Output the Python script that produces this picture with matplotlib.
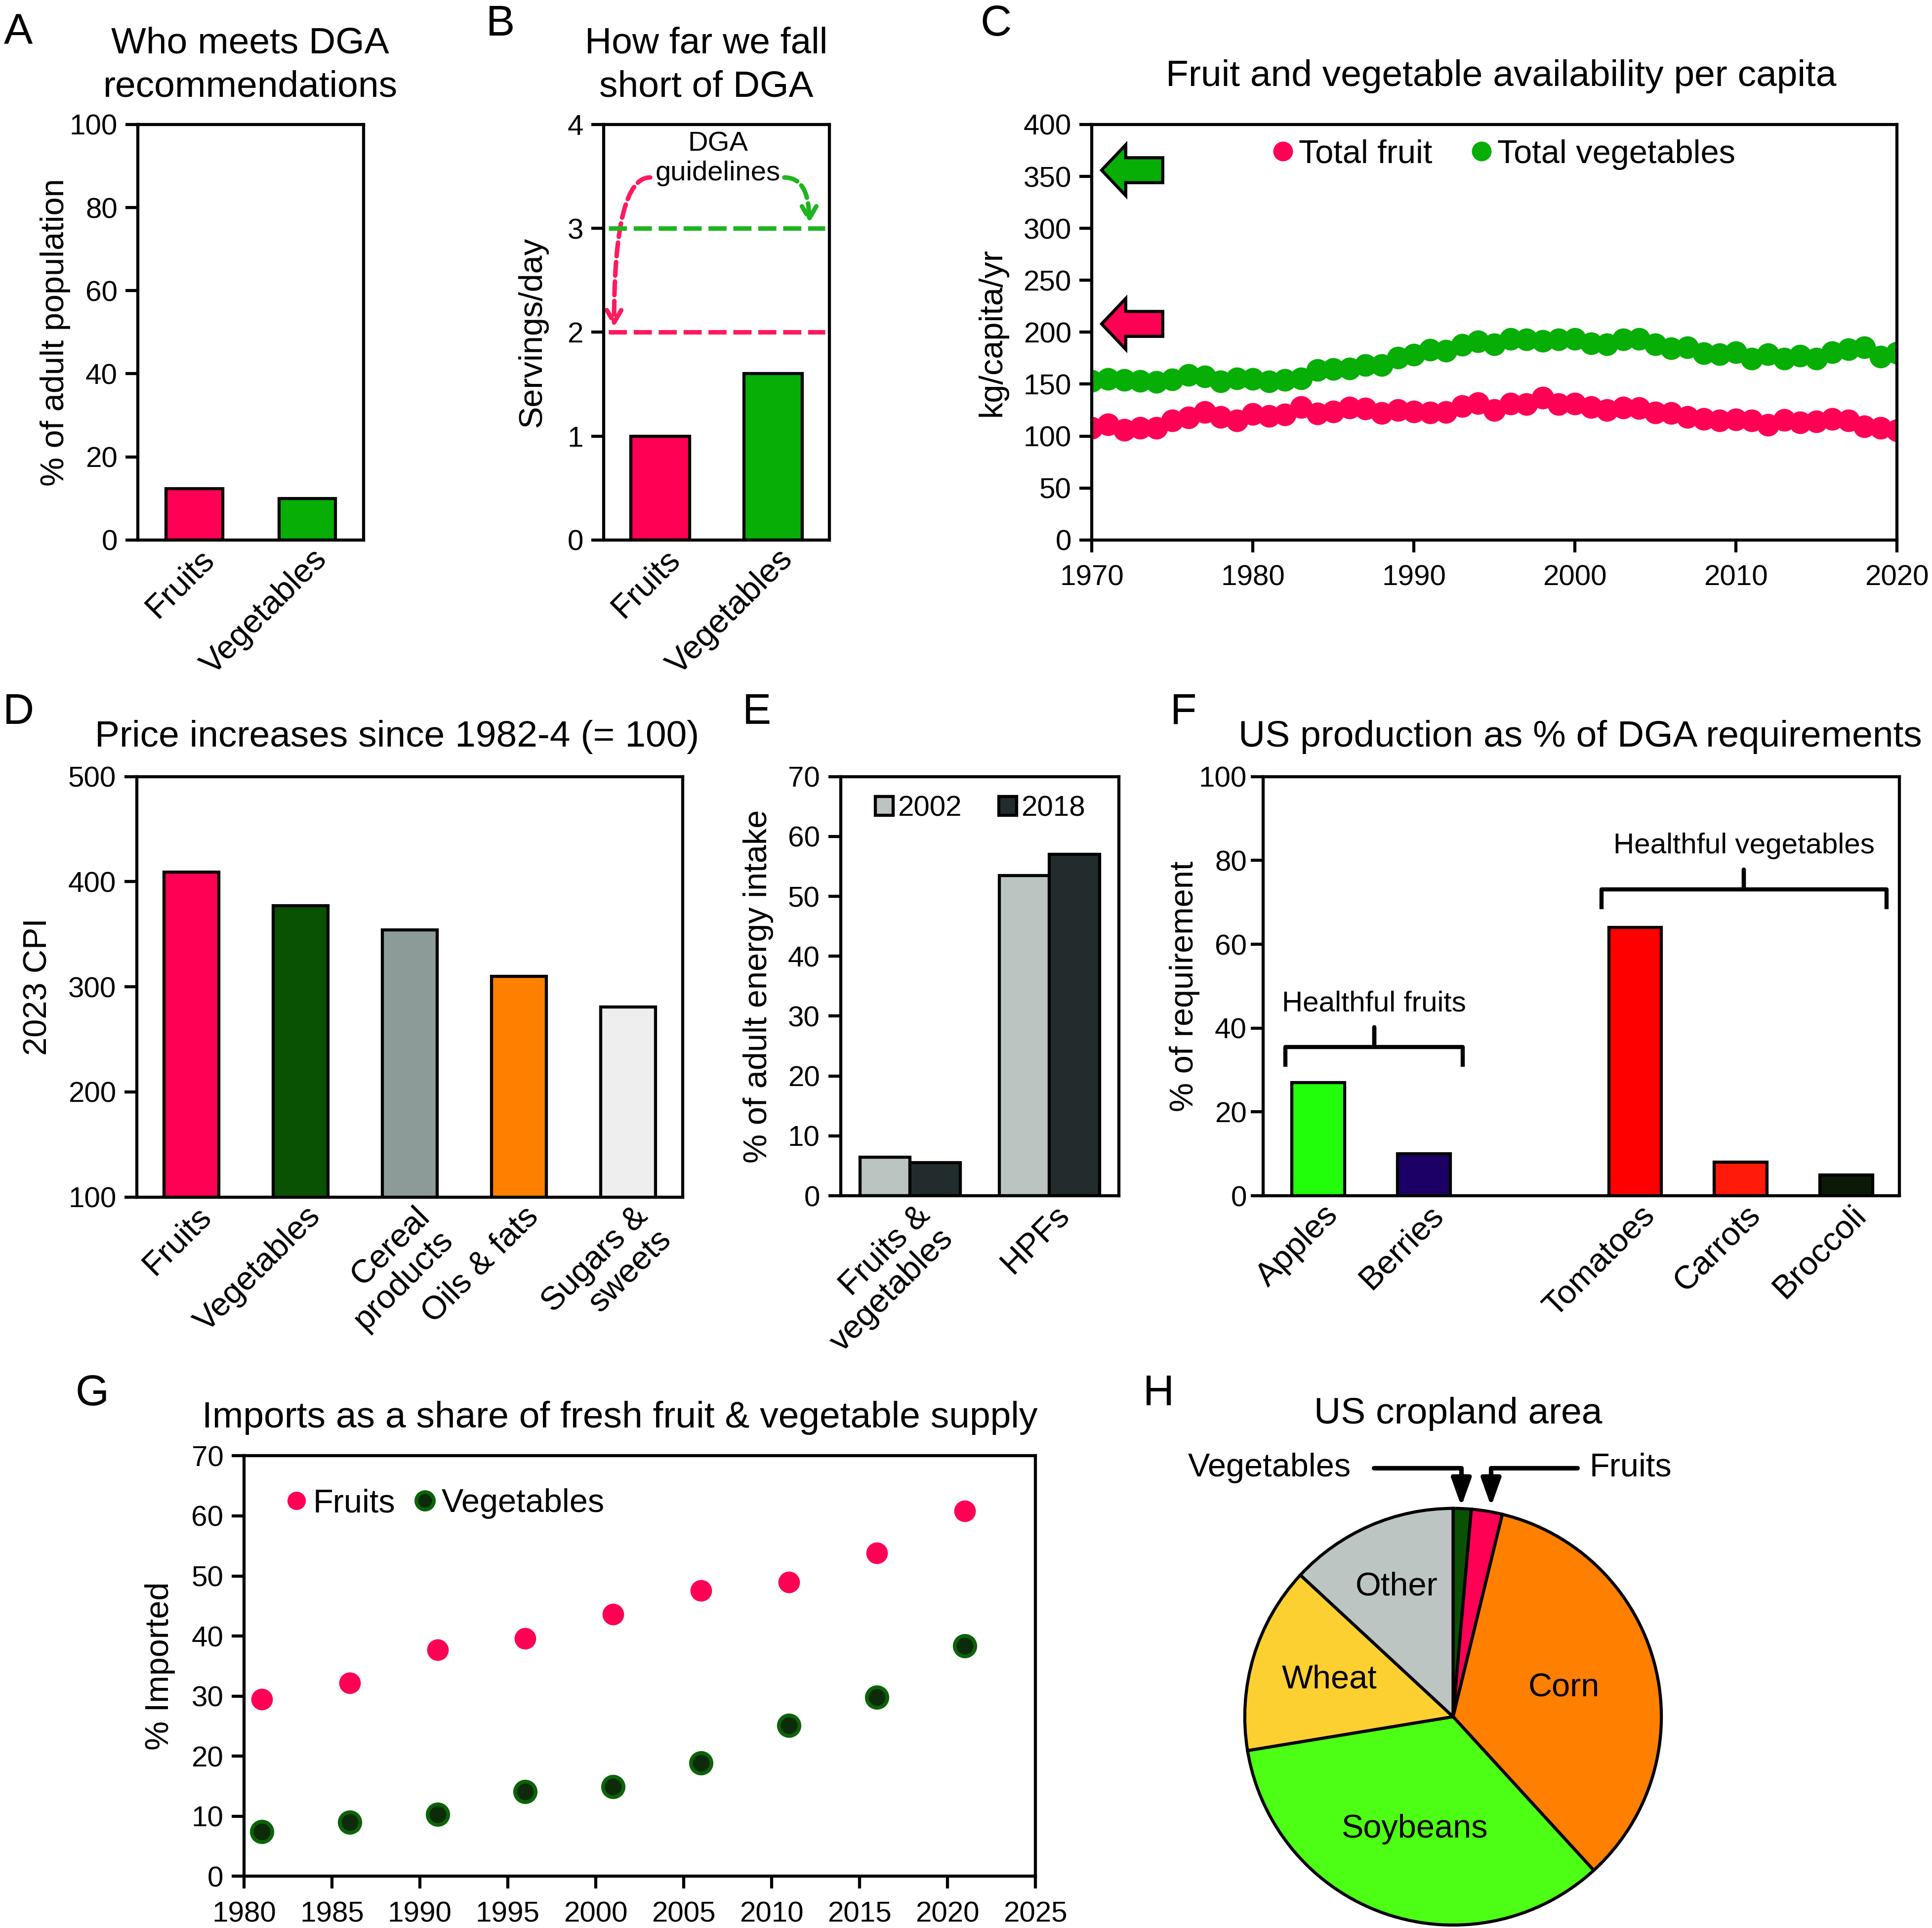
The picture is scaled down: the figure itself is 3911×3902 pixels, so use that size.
import matplotlib
matplotlib.use("Agg")
import matplotlib.pyplot as plt
import matplotlib.transforms as mtransforms
from matplotlib.patches import FancyArrowPatch, FancyArrow
import numpy as np

plt.rcParams['font.family'] = ['Liberation Sans', 'DejaVu Sans']

# ---------------- data ----------------
# A: who meets DGA recommendations
a_cats = ["Fruits", "Vegetables"]
a_vals = [12.3, 10.0]

# B: servings/day vs DGA
b_cats = ["Fruits", "Vegetables"]
b_vals = [1.0, 1.6]
b_dga_fruit = 2
b_dga_veg = 3

# C: availability per capita (kg/capita/yr)
c_years = list(range(1970, 2021))
c_fruit = [108, 111, 106, 108, 108, 115, 118, 123, 118.5, 115,
           121, 119.5, 120.5, 128, 121.5, 123.5, 127.5, 126.5, 122, 125,
           123.5, 122.5, 123, 129, 131.5, 125, 131, 130.5, 137, 130.5,
           131, 128, 125, 127.5, 127, 122.5, 122, 118.5, 116.5, 115,
           116, 115, 110.5, 115.5, 113, 114, 116.5, 115, 109.5, 108,
           105.5]
c_veg = [153, 155, 154, 153, 152, 154.5, 159, 157.5, 152.5, 155.5,
         155, 152.5, 154, 155.5, 163.5, 164.5, 165, 168.5, 168.5, 175.5,
         178.5, 183, 182, 188, 191, 188.5, 193.5, 193, 191.5, 193,
         193.5, 189, 188.5, 193, 193.5, 188.5, 184.5, 185.5, 179.5, 179,
         180.5, 174.5, 179, 174.5, 177.5, 174.5, 180.5, 183.5, 185.5, 176.5,
         180]
c_target_veg = 356
c_target_fruit = 208

# D: CPI 2023
d_cats = ["Fruits", "Vegetables", "Cereal\nproducts", "Oils & fats", "Sugars &\nsweets"]
d_vals = [409, 377, 354, 310, 281]

# E: share of adult energy intake
e_cats = ["Fruits &\nvegetables", "HPFs"]
e_2002 = [6.4, 53.5]
e_2018 = [5.5, 57.0]

# F: US production as % of DGA requirement
f_cats = ["Apples", "Berries", "Tomatoes", "Carrots", "Broccoli"]
f_pos = [0, 1, 3, 4, 5]
f_vals = [27.0, 10.0, 64.0, 8.0, 5.0]

# G: imports share
g_years = [1981, 1986, 1991, 1996, 2001, 2006, 2011, 2016, 2021]
g_fruit = [29.5, 32.2, 37.7, 39.6, 43.6, 47.6, 49.0, 53.8, 60.8]
g_veg = [7.4, 9.0, 10.3, 14.1, 14.9, 18.9, 25.1, 29.8, 38.4]

# H: US cropland area (%)
h_cats = ["Vegetables", "Fruits", "Corn", "Soybeans", "Wheat", "Other"]
h_vals = [1.4, 2.4, 34.4, 34.2, 14.5, 13.1]

# ---------------- colours ----------------
PINK = '#FF0055'
GREEN = '#06AE06'
DKGREEN = '#0A5203'
d_colors = [PINK, DKGREEN, '#8C9B97', '#FF8000', '#EEEEEE']
e_colors = ['#BCC4C1', '#232C2C']
f_colors = ['#22FF0A', '#1C0066', '#FF0000', '#FF1A0A', '#0B1A06']
h_colors = [DKGREEN, PINK, '#FF8000', '#4CFF14', '#FDD032', '#BCC5C2']

W, H = 1568.0, 1564.0
fig = plt.figure(figsize=(3912 / 300, 3902 / 300), dpi=300)
LW = 1.5
TICK = 14
XLAB = 16
YLAB = 16
TITLE = 18


def add_ax(l, t, r, b):
    return fig.add_axes([l / W, 1 - b / H, (r - l) / W, (b - t) / H])


def style(ax, xticks_len=0):
    for s in ax.spines.values():
        s.set_linewidth(LW)
    ax.tick_params(axis='y', direction='out', length=6, width=LW, labelsize=TICK, pad=4)
    ax.tick_params(axis='x', direction='out', length=xticks_len, width=LW, labelsize=TICK)


def rot_labels(ax, labels, dx=2, dy=1.5, size=XLAB):
    ax.set_xticklabels(labels, rotation=45, ha='right', va='top',
                       rotation_mode='anchor', fontsize=size, linespacing=1.1)
    off = mtransforms.ScaledTranslation(dx / 72, dy / 72, fig.dpi_scale_trans)
    for lab in ax.get_xticklabels():
        lab.set_transform(lab.get_transform() + off)


def ylabel(ax, text, x, size=YLAB):
    ax.set_ylabel(text, fontsize=size, va='center')
    ax.yaxis.set_label_coords(x, 0.5)


def fig_text(x, y, s, size, **kw):
    fig.text(x / W, 1 - y / H, s, fontsize=size, ha=kw.pop('ha', 'center'),
             va=kw.pop('va', 'center'), **kw)


# panel letters
for letter, (x, y) in zip("ABCDEFGH", [(15, 27), (406, 20), (808, 20), (15, 578),
                                       (614, 578), (960, 578), (75, 1131), (940, 1131)]):
    fig_text(x, y, letter, 21)

# ---------------- A ----------------
ax = add_ax(112, 101, 295, 438)
style(ax)
xa = np.arange(len(a_cats))
ax.bar(xa, a_vals, width=0.5, color=[PINK, GREEN], edgecolor='black', linewidth=LW)
ax.set_xlim(-0.5, 1.5)
ax.set_ylim(0, 100)
ax.set_yticks(range(0, 101, 20))
ax.set_xticks(xa)
rot_labels(ax, a_cats)
ylabel(ax, "% of adult population", -0.366)
fig_text(203, 53, "Who meets DGA\nrecommendations", TITLE, linespacing=1.35)

# ---------------- B ----------------
ax = add_ax(490, 101, 673, 438)
style(ax)
xb = np.arange(len(b_cats))
ax.bar(xb, b_vals, width=0.52, color=[PINK, GREEN], edgecolor='black', linewidth=LW)
ax.set_xlim(-0.5, 1.5)
ax.set_ylim(0, 4)
ax.set_yticks(range(0, 5))
ax.set_xticks(xb)
rot_labels(ax, b_cats)
ylabel(ax, "Servings/day", -0.317)
ax.axhline(b_dga_veg, xmin=0.02, xmax=0.98, color='#1DB51D', lw=2.2, ls=(0, (4, 1.5)))
ax.axhline(b_dga_fruit, xmin=0.02, xmax=0.98, color='#FF1A5E', lw=2.2, ls=(0, (4, 1.5)))
ax.text(0.51, 3.67, "DGA\nguidelines", ha='center', va='center', fontsize=13.5, linespacing=1.2)
ax.add_patch(FancyArrowPatch((-0.09, 3.49), (-0.41, b_dga_fruit + 0.05),
                             connectionstyle="angle3,angleA=0,angleB=90",
                             arrowstyle='->,head_length=6,head_width=3.5', color='#FF1A5E',
                             lw=2.2, ls=(0, (3, 1.3)), shrinkA=0, shrinkB=0))
ax.add_patch(FancyArrowPatch((1.10, 3.49), (1.32, b_dga_veg + 0.05),
                             connectionstyle="angle3,angleA=0,angleB=90",
                             arrowstyle='->,head_length=6,head_width=3.5', color='#1DB51D',
                             lw=2.2, ls=(0, (3, 1.3)), shrinkA=0, shrinkB=0))
fig_text(573, 53, "How far we fall\nshort of DGA", TITLE, linespacing=1.35)

# ---------------- C ----------------
ax = add_ax(886, 101, 1539, 438)
style(ax, xticks_len=6)
ax.plot(c_years, c_fruit, 'o', ms=11, color=PINK, mec='none', label='Total fruit')
ax.plot(c_years, c_veg, 'o', ms=11, color=GREEN, mec='none', label='Total vegetables')
ax.set_xlim(1970, 2020)
ax.set_ylim(0, 400)
ax.set_yticks(range(0, 401, 50))
ax.set_xticks(range(1970, 2021, 10))
ax.tick_params(axis='x', pad=6)
ylabel(ax, "kg/capita/yr", -0.124)
for val, col in [(c_target_veg, GREEN), (c_target_fruit, PINK)]:
    ax.add_patch(FancyArrow(1974.4, val, -3.8, 0, width=24, head_width=49, head_length=1.5,
                            length_includes_head=True, facecolor=col, edgecolor='black',
                            lw=1.5, clip_on=False))
ax.legend(loc='center left', bbox_to_anchor=(0.225, 0.928), ncol=2, frameon=False,
          fontsize=16, handlelength=0.6, handletextpad=0.18, columnspacing=1.19,
          borderpad=0, borderaxespad=0, markerscale=0.87)
fig_text(1218, 62, "Fruit and vegetable availability per capita", TITLE)

# ---------------- D ----------------
ax = add_ax(111, 630, 554, 971)
style(ax)
xd = np.arange(len(d_cats))
ax.bar(xd, d_vals, width=0.5, bottom=0, color=d_colors, edgecolor='black', linewidth=LW)
ax.set_xlim(-0.5, len(d_cats) - 0.5)
ax.set_ylim(100, 500)
ax.set_yticks(range(100, 501, 100))
ax.set_xticks(xd)
rot_labels(ax, d_cats)
ylabel(ax, "2023 CPI", -0.18)
fig_text(322, 598, "Price increases since 1982-4 (= 100)", TITLE)

# ---------------- E ----------------
ax = add_ax(682, 630, 908, 970)
style(ax)
xe = np.arange(len(e_cats))
bw = 0.36
ax.bar(xe - bw / 2, e_2002, width=bw, color=e_colors[0], edgecolor='black', linewidth=LW, label='2002')
ax.bar(xe + bw / 2, e_2018, width=bw, color=e_colors[1], edgecolor='black', linewidth=LW, label='2018')
ax.set_xlim(-0.5, 1.5)
ax.set_ylim(0, 70)
ax.set_yticks(range(0, 71, 10))
ax.set_xticks(xe)
rot_labels(ax, e_cats)
ylabel(ax, "% of adult energy intake", -0.296)
ax.legend(loc='center left', bbox_to_anchor=(0.125, 0.9235), ncol=2, frameon=False, fontsize=14,
          handlelength=0.62, handleheight=0.62, handletextpad=0.15, columnspacing=1.3,
          borderpad=0, borderaxespad=0)

# ---------------- F ----------------
ax = add_ax(1025, 630, 1541, 970)
style(ax)
ax.tick_params(axis='y', pad=2)
ax.bar(f_pos, f_vals, width=0.5, color=f_colors, edgecolor='black', linewidth=LW)
ax.set_xlim(-0.52, 5.5)
ax.set_ylim(0, 100)
ax.set_yticks(range(0, 101, 20))
ax.set_xticks(f_pos)
rot_labels(ax, f_cats)
ylabel(ax, "% of requirement", -0.124)


def brace(ax, x0, x1, y, h, label):
    xm = (x0 + x1) / 2
    ax.plot([x0, x0, xm, xm, xm, x1, x1], [y - h, y, y, y + h, y, y, y - h],
            color='black', lw=2, solid_joinstyle='round', solid_capstyle='butt')
    ax.text(xm, y + 2.2 * h, label, ha='center', va='center', fontsize=14)


brace(ax, f_pos[0] - 0.31, f_pos[1] + 0.37, 35.5, 4.7, "Healthful fruits")
brace(ax, f_pos[2] - 0.32, f_pos[4] + 0.38, 73.1, 4.7, "Healthful vegetables")
fig_text(1282, 598, "US production as % of DGA requirements", TITLE)

# ---------------- G ----------------
ax = add_ax(198, 1181, 840, 1522)
style(ax, xticks_len=6)
ax.plot(g_years, g_fruit, 'o', ms=10.5, color=PINK, mec='none', label='Fruits')
ax.plot(g_years, g_veg, 'o', ms=10, color='#0C2B08', mec='#0B6408', mew=1.8, label='Vegetables')
ax.set_xlim(1980, 2025)
ax.set_ylim(0, 70)
ax.set_yticks(range(0, 71, 10))
ax.set_xticks(range(1980, 2026, 5))
ax.tick_params(axis='x', pad=6)
ylabel(ax, "% Imported", -0.106)
ax.legend(loc='center left', bbox_to_anchor=(0.054, 0.886), ncol=2, frameon=False, fontsize=16,
          handlelength=0.6, handletextpad=0.2, columnspacing=0.6,
          borderpad=0, borderaxespad=0, markerscale=0.85)
fig_text(503, 1150, "Imports as a share of fresh fruit & vegetable supply", TITLE)

# ---------------- H ----------------
ax = add_ax(1010, 1223.6, 1348, 1561.6)
wedges, _ = ax.pie(h_vals, colors=h_colors, startangle=90, counterclock=False,
                   wedgeprops=dict(edgecolor='black', linewidth=LW))
ax.set_xlim(-1, 1)
ax.set_ylim(-1, 1)
ax.set_aspect('equal')
ax.axis('off')
cum = np.cumsum([0] + h_vals)
label_r = {"Corn": 0.55, "Soybeans": 0.57, "Wheat": 0.62, "Other": 0.68}
for i, name in enumerate(h_cats):
    if name in label_r:
        mid = np.deg2rad((cum[i] + cum[i + 1]) / 2 / 100 * 360)
        r = label_r[name]
        ax.text(r * np.sin(mid), r * np.cos(mid), name, ha='center', va='center', fontsize=16)
mid_veg = np.deg2rad((cum[0] + cum[1]) / 2 / 100 * 360)
mid_fr = np.deg2rad((cum[1] + cum[2]) / 2 / 100 * 360) + 0.02
ax.annotate("Vegetables", xy=(np.sin(mid_veg) * 0.9, 1.0), xytext=(-0.49, 1.195),
            ha='right', va='center', fontsize=16, annotation_clip=False,
            arrowprops=dict(arrowstyle='-|>,head_length=0.7,head_width=0.25', color='black', lw=2.2,
                            connectionstyle='angle,angleA=0,angleB=90,rad=0',
                            relpos=(1, 0.5), shrinkA=9, shrinkB=1))
ax.annotate("Fruits", xy=(np.sin(mid_fr), 1.0), xytext=(0.655, 1.195),
            ha='left', va='center', fontsize=16, annotation_clip=False,
            arrowprops=dict(arrowstyle='-|>,head_length=0.7,head_width=0.25', color='black', lw=2.2,
                            connectionstyle='angle,angleA=0,angleB=90,rad=0',
                            relpos=(0, 0.5), shrinkA=4, shrinkB=1))
fig_text(1183, 1147, "US cropland area", TITLE)

fig.savefig("out.png", dpi=300, facecolor='white')
